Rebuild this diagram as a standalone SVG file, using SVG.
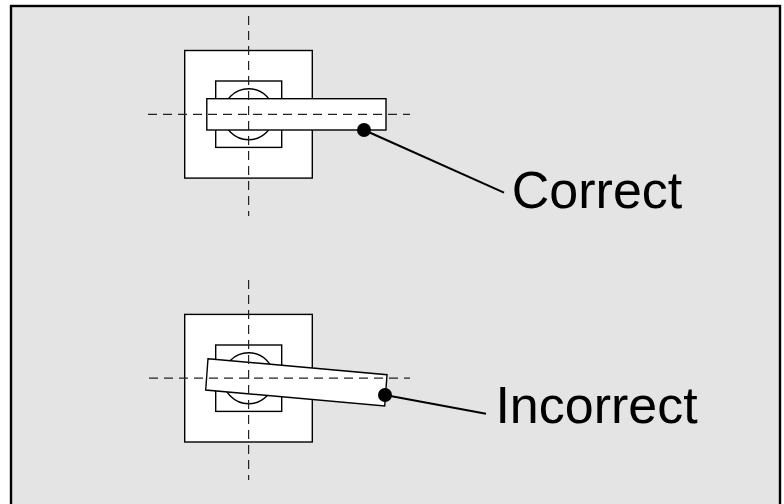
<svg xmlns="http://www.w3.org/2000/svg" width="784" height="504" viewBox="0 0 784 504">
<style>
.s{fill:#fff;stroke:#000;stroke-width:1.4}
.n{fill:none;stroke:#000;stroke-width:1.4}
.d{fill:none;stroke:#222;stroke-width:1.2;stroke-dasharray:9 6}
.l{fill:none;stroke:#000;stroke-width:2}
.t{font-family:"Liberation Sans",Arial,sans-serif;font-size:52px;fill:#000}
</style>
<rect width="784" height="504" fill="#fff"/>
<rect id="frame" x="11" y="6" width="769" height="510" fill="#e4e4e4" stroke="#000" stroke-width="2.4"/>
<g id="correct-lock">
<rect class="s" x="184.7" y="50.5" width="127.6" height="127.6"/>
<rect class="s" x="215.7" y="81" width="66" height="66.4"/>
<circle class="n" cx="248.6" cy="114.2" r="25.5"/>
<rect class="s" x="206.8" y="98.7" width="179.2" height="31.3"/>
</g>
<g id="incorrect-lock">
<rect class="s" x="184.7" y="314.4" width="127.6" height="127.6"/>
<rect class="s" x="215.7" y="345" width="66" height="66.4"/>
<circle class="n" cx="248.6" cy="378.2" r="25.5"/>
<polygon class="s" points="208,358.7 387,374.7 384.7,406 205.7,390"/>
</g>
<g id="connectors">
<path class="d" d="M148 114.3H410M248.6 16V216"/>
<path class="d" d="M149 378.2H410M248.6 280V480"/>
<path class="l" d="M364 130L504 192.7"/>
<path class="l" d="M385 395L486 413.7"/>
<circle cx="364" cy="130" r="7"/>
<circle cx="385" cy="395" r="7"/>
</g>
<g id="label-correct"><text class="t" x="511.8" y="207.5">Correct</text></g>
<g id="label-incorrect"><text class="t" x="495.4" y="422.5">Incorrect</text></g>
</svg>
